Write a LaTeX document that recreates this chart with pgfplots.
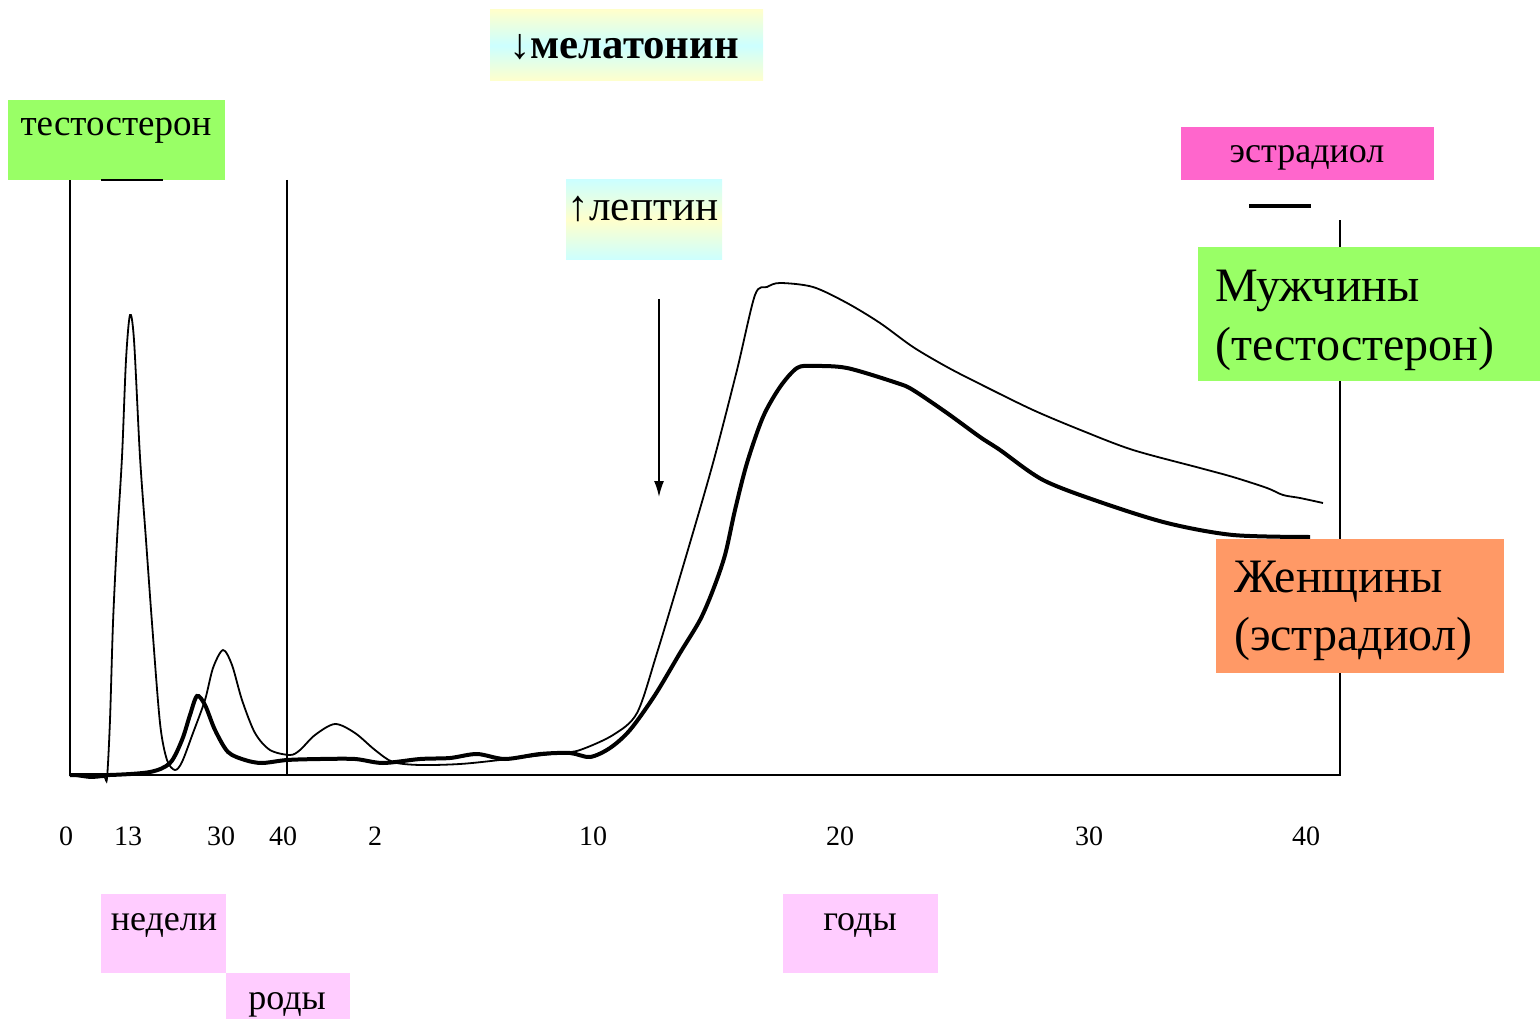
\documentclass[border=0pt]{standalone}
\usepackage{fontspec}
\setmainfont{Liberation Serif}
\usepackage{pgfplots}
\pgfplotsset{compat=1.18}
\usetikzlibrary{arrows.meta}

\definecolor{grn}{HTML}{99FF66}
\definecolor{pnk}{HTML}{FF66CC}
\definecolor{org}{HTML}{FF9966}
\definecolor{lil}{HTML}{FFCCFF}
\definecolor{lcy}{HTML}{CCFFFF}
\definecolor{lye}{HTML}{FFFFCC}

\begin{document}
\begin{tikzpicture}
\begin{axis}[
    scale only axis,
    width=770pt, height=509.5pt,
    xmin=0, xmax=1540, ymin=0, ymax=1019,
    y dir=reverse,
    hide axis,
    clip=false,
  ]
  \path (axis cs:0,0) rectangle (axis cs:1540,1019);

  % frame lines
  \addplot[black, line width=1pt] coordinates {(70,180) (70,775) (1340,775) (1340,220)};
  \addplot[black, line width=0.8pt] coordinates {(287,180) (287,775)};

  % men (testosterone), thin
  \addplot[black, line width=0.9pt, smooth, tension=0.5] coordinates {
    (70,775) (90,778) (104,777) (107,778) (110,720) (113,623) (117,540) (122,457)
    (126,360) (130,315) (134,340) (140,457) (146,540) (152,623) (160,723)
    (167,760) (175,770) (182,762) (193,733) (205,700) (213,668) (223,650)
    (232,665) (242,700) (255,733) (270,750) (290,755) (300,750) (315,735)
    (335,724) (355,733) (375,750) (393,762) (420,765) (460,764) (500,760)
    (560,753) (580,750) (613,735) (637,713) (657,653) (687,553) (713,463)
    (737,370) (755,295) (767,287) (780,283) (813,287) (847,303) (880,323)
    (913,347) (947,367) (980,384) (1033,410) (1083,431) (1133,450) (1200,468)
    (1233,477) (1267,488) (1283,495) (1300,498) (1323,503)};

  % women (estradiol), thick
  \addplot[black, line width=2pt, smooth, tension=0.5] coordinates {
    (70,775) (110,775) (150,772) (170,763) (182,740) (190,715) (197,696)
    (205,705) (215,730) (228,752) (245,760) (262,763) (287,760) (320,759)
    (355,759) (383,763) (420,759) (450,758) (477,754) (505,759) (540,754)
    (570,753) (590,757) (610,748) (630,730) (655,695) (680,653) (700,620)
    (713,590) (725,555) (735,510) (747,463) (763,417) (780,387) (797,368)
    (813,366) (847,368) (897,383) (913,390) (947,413) (980,437) (1000,450)
    (1043,480) (1100,502) (1167,523) (1233,535) (1310,537)};

  % arrow
  \addplot[black, line width=0.8pt, -{Latex[length=8pt,width=5pt]}] coordinates {(659,299) (659,497)};

  % boxes
  \fill[grn] (axis cs:8,100) rectangle (axis cs:225,180);
  \node[font=\fontsize{18.5}{22}\selectfont, anchor=base] at (axis cs:116,136) {тестостерон};
  \addplot[black, line width=1pt] coordinates {(101,180) (163,180)};

  \shade[top color=lye, bottom color=lye, middle color=lcy] (axis cs:490,10) rectangle (axis cs:763,81);
  \node[font=\fontsize{21.4}{25}\selectfont\bfseries, anchor=base] at (axis cs:624,59) {↓мелатонин};

  \shade[top color=lcy, bottom color=lcy, middle color=lye] (axis cs:566,180) rectangle (axis cs:722,260);
  \node[font=\fontsize{21.6}{25}\selectfont, anchor=base] at (axis cs:643,221) {↑лептин};

  \fill[pnk] (axis cs:1181,127) rectangle (axis cs:1434,180);
  \node[font=\fontsize{18}{21}\selectfont, anchor=base] at (axis cs:1307,163) {эстрадиол};
  \addplot[black, line width=2pt] coordinates {(1249,206) (1311,206)};

  \fill[grn] (axis cs:1198,247) rectangle (axis cs:1540,381);
  \node[font=\fontsize{24}{29}\selectfont, anchor=base west] at (axis cs:1208,302) {Мужчины};
  \node[font=\fontsize{24}{29}\selectfont, anchor=base west] at (axis cs:1208,360) {(тестостерон)};

  \fill[org] (axis cs:1216,539) rectangle (axis cs:1504,673);
  \node[font=\fontsize{24}{29}\selectfont, anchor=base west] at (axis cs:1227,592) {Женщины};
  \node[font=\fontsize{24}{29}\selectfont, anchor=base west] at (axis cs:1227,650) {(эстрадиол)};

  \fill[lil] (axis cs:101,894) rectangle (axis cs:226,973);
  \node[font=\fontsize{18}{21}\selectfont, anchor=base] at (axis cs:164,930) {недели};
  \fill[lil] (axis cs:226,973) rectangle (axis cs:350,1019);
  \node[font=\fontsize{18}{21}\selectfont, anchor=base] at (axis cs:287,1009) {роды};
  \fill[lil] (axis cs:783,894) rectangle (axis cs:938,973);
  \node[font=\fontsize{18}{21}\selectfont, anchor=base] at (axis cs:860,930) {годы};

  % time labels
  \foreach \p/\t in {66/0, 128/13, 221/30, 283/40, 375/2, 593/10, 840/20, 1089/30, 1306/40} {
    \edef\tmp{\noexpand\node[font=\noexpand\fontsize{14}{17}\noexpand\selectfont, anchor=base] at (axis cs:\p,845) {\t};}
    \tmp
  }
\end{axis}
\end{tikzpicture}
\end{document}
